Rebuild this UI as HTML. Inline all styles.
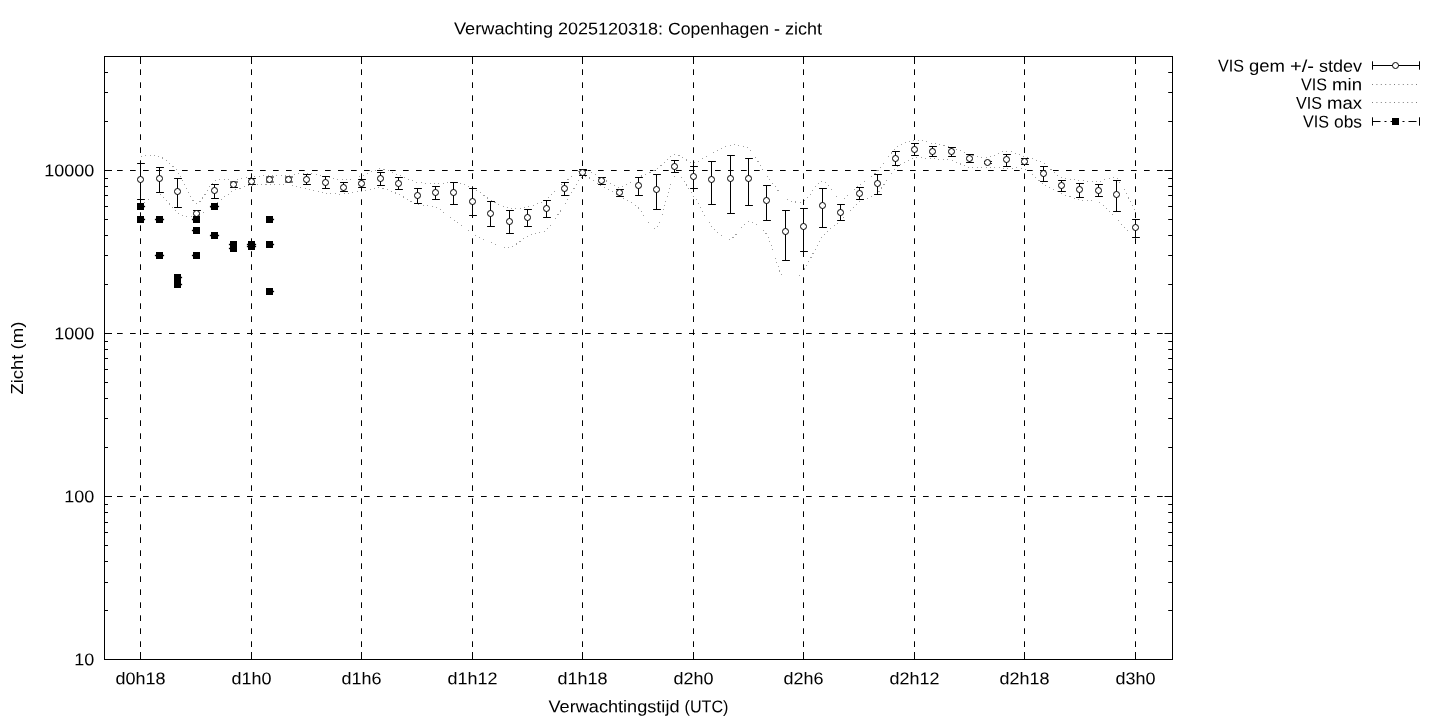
<!DOCTYPE html><html><head><meta charset="utf-8"><title>Verwachting</title><style>html,body{margin:0;padding:0;background:#fff}svg{display:block;will-change:transform}text{font-family:"Liberation Sans",sans-serif;font-size:17px;fill:#000}</style></head><body>
<svg width="1440" height="720" viewBox="0 0 1440 720">
<rect width="1440" height="720" fill="#fff"/>
<g stroke="#000" stroke-width="1" fill="none" stroke-dasharray="5.7 7.3">
<path d="M104 496.5H1173"/>
<path d="M104 333.5H1173"/>
<path d="M104 170.5H1173"/>
<path d="M140.5 660V56"/>
<path d="M251.5 660V56"/>
<path d="M361.5 660V56"/>
<path d="M472.5 660V56"/>
<path d="M582.5 660V56"/>
<path d="M693.5 660V56"/>
<path d="M803.5 660V56"/>
<path d="M914.5 660V56"/>
<path d="M1024.5 660V56"/>
<path d="M1135.5 660V56"/>
</g>
<g stroke="#000" stroke-width="1" fill="none">
<path d="M104.5 659.5h7.5M1172.5 659.5h-8M104.5 610.5h3.5M1172.5 610.5h-4.3M104.5 582.5h3.5M1172.5 582.5h-4.3M104.5 561.5h3.5M1172.5 561.5h-4.3M104.5 545.5h3.5M1172.5 545.5h-4.3M104.5 532.5h3.5M1172.5 532.5h-4.3M104.5 522.5h3.5M1172.5 522.5h-4.3M104.5 512.5h3.5M1172.5 512.5h-4.3M104.5 504.5h3.5M1172.5 504.5h-4.3M104.5 496.5h7.5M1172.5 496.5h-8M104.5 447.5h3.5M1172.5 447.5h-4.3M104.5 418.5h3.5M1172.5 418.5h-4.3M104.5 398.5h3.5M1172.5 398.5h-4.3M104.5 382.5h3.5M1172.5 382.5h-4.3M104.5 369.5h3.5M1172.5 369.5h-4.3M104.5 358.5h3.5M1172.5 358.5h-4.3M104.5 349.5h3.5M1172.5 349.5h-4.3M104.5 341.5h3.5M1172.5 341.5h-4.3M104.5 333.5h7.5M1172.5 333.5h-8M104.5 284.5h3.5M1172.5 284.5h-4.3M104.5 255.5h3.5M1172.5 255.5h-4.3M104.5 235.5h3.5M1172.5 235.5h-4.3M104.5 219.5h3.5M1172.5 219.5h-4.3M104.5 206.5h3.5M1172.5 206.5h-4.3M104.5 195.5h3.5M1172.5 195.5h-4.3M104.5 186.5h3.5M1172.5 186.5h-4.3M104.5 178.5h3.5M1172.5 178.5h-4.3M104.5 170.5h7.5M1172.5 170.5h-8M104.5 121.5h3.5M1172.5 121.5h-4.3M104.5 92.5h3.5M1172.5 92.5h-4.3M104.5 72.5h3.5M1172.5 72.5h-4.3M104.5 56.5h3.5M1172.5 56.5h-4.3M140.5 659.5v-7.5M140.5 56.5v7.5M251.5 659.5v-7.5M251.5 56.5v7.5M361.5 659.5v-7.5M361.5 56.5v7.5M472.5 659.5v-7.5M472.5 56.5v7.5M582.5 659.5v-7.5M582.5 56.5v7.5M693.5 659.5v-7.5M693.5 56.5v7.5M803.5 659.5v-7.5M803.5 56.5v7.5M914.5 659.5v-7.5M914.5 56.5v7.5M1024.5 659.5v-7.5M1024.5 56.5v7.5M1135.5 659.5v-7.5M1135.5 56.5v7.5"/>
</g>
<g stroke="#a0a0a0" stroke-width="1" fill="none" stroke-dasharray="1 3.4" shape-rendering="crispEdges">
<path d="M140.9 205.0C143.4 203.6 154.4 193.3 159.4 194.4C164.3 195.5 172.9 210.1 177.8 213.0C182.7 215.9 191.3 217.4 196.2 216.3C201.1 215.2 209.7 207.8 214.6 204.4C219.5 201.0 228.1 193.7 233.0 191.1C237.9 188.5 246.5 186.0 251.4 185.2C256.3 184.4 264.9 185.0 269.8 185.0C274.7 185.0 283.3 184.5 288.2 185.0C293.1 185.5 301.7 187.8 306.6 188.9C311.6 190.0 320.2 192.6 325.1 193.3C330.0 194.0 338.6 194.2 343.5 193.9C348.4 193.6 357.0 191.9 361.9 191.1C366.8 190.3 375.4 187.4 380.3 187.8C385.2 188.2 393.8 192.2 398.7 194.4C403.6 196.6 412.2 202.7 417.1 204.4C422.0 206.1 430.6 205.1 435.5 207.2C440.4 209.3 449.0 216.5 453.9 220.0C458.9 223.5 467.4 230.3 472.4 233.3C477.3 236.3 485.9 240.3 490.8 242.2C495.7 244.1 504.3 248.6 509.2 247.8C514.1 247.0 522.7 238.4 527.6 236.0C532.5 233.6 541.1 234.1 546.0 230.0C550.9 225.9 559.5 212.1 564.4 205.0C569.3 197.9 577.9 179.3 582.8 176.8C587.7 174.3 596.3 183.5 601.2 186.0C606.1 188.5 614.7 192.9 619.7 195.8C624.6 198.7 633.2 203.3 638.1 207.6C643.0 211.9 651.6 232.5 656.5 228.2C661.4 223.9 670.0 179.8 674.9 175.4C679.8 171.0 688.4 188.6 693.3 195.4C698.2 202.2 706.8 220.5 711.7 226.3C716.6 232.1 725.2 239.8 730.1 239.2C735.0 238.6 743.6 222.5 748.5 221.9C753.4 221.3 762.0 226.8 766.9 235.0C771.9 243.2 780.5 278.6 785.4 283.2C790.3 287.8 798.9 276.0 803.8 269.8C808.7 263.6 817.3 243.6 822.2 237.0C827.1 230.4 835.7 225.1 840.6 220.5C845.5 215.9 854.1 205.9 859.0 202.3C863.9 198.7 872.5 197.8 877.4 193.2C882.3 188.6 890.9 172.7 895.8 168.0C900.7 163.3 909.3 159.5 914.2 158.3C919.2 157.1 927.7 158.6 932.7 158.9C937.6 159.2 946.2 159.3 951.1 160.4C956.0 161.5 964.6 166.4 969.5 167.3C974.4 168.2 983.0 167.3 987.9 167.4C992.8 167.5 1001.4 168.1 1006.3 168.3C1011.2 168.5 1019.8 166.9 1024.7 169.0C1029.6 171.1 1038.2 180.7 1043.1 184.0C1048.0 187.3 1056.6 191.5 1061.5 193.6C1066.4 195.7 1075.0 198.6 1080.0 199.7C1084.9 200.8 1093.5 199.2 1098.4 201.8C1103.3 204.4 1111.9 214.1 1116.8 219.0C1121.7 223.9 1132.7 236.1 1135.2 238.7"/>
<path d="M140.9 156.1C143.4 156.1 154.4 154.2 159.4 156.3C164.3 158.4 172.9 165.4 177.8 171.7C182.7 178.0 191.3 202.2 196.2 203.5C201.1 204.8 209.7 184.2 214.6 181.1C219.5 178.0 228.1 180.5 233.0 180.0C237.9 179.5 246.5 177.8 251.4 177.2C256.3 176.6 264.9 175.8 269.8 175.5C274.7 175.2 283.3 175.5 288.2 175.2C293.1 174.9 301.7 173.2 306.6 173.3C311.6 173.4 320.2 175.2 325.1 176.1C330.0 177.0 338.6 180.0 343.5 180.0C348.4 180.0 357.0 177.6 361.9 176.1C366.8 174.6 375.4 169.0 380.3 168.9C385.2 168.8 393.8 173.2 398.7 175.0C403.6 176.8 412.2 181.0 417.1 182.2C422.0 183.4 430.6 183.9 435.5 183.9C440.4 183.9 449.0 181.7 453.9 182.2C458.9 182.7 467.4 185.4 472.4 187.8C477.3 190.2 485.9 197.3 490.8 200.0C495.7 202.7 504.3 207.3 509.2 208.3C514.1 209.3 522.7 208.4 527.6 207.2C532.5 206.0 541.1 202.7 546.0 199.4C550.9 196.1 559.5 186.1 564.4 182.2C569.3 178.3 577.9 170.8 582.8 170.2C587.7 169.6 596.3 175.7 601.2 178.0C606.1 180.3 614.7 187.3 619.7 187.2C624.6 187.1 633.2 179.9 638.1 177.5C643.0 175.1 651.6 172.3 656.5 169.2C661.4 166.1 670.0 155.4 674.9 154.6C679.8 153.8 688.4 163.1 693.3 162.9C698.2 162.7 706.8 155.5 711.7 153.2C716.6 150.9 725.2 145.9 730.1 145.3C735.0 144.7 743.6 144.6 748.5 148.6C753.4 152.6 762.0 168.9 766.9 175.5C771.9 182.1 780.5 195.0 785.4 198.4C790.3 201.8 798.9 203.4 803.8 201.1C808.7 198.8 817.3 181.1 822.2 180.9C827.1 180.7 835.7 198.7 840.6 199.3C845.5 199.9 854.1 189.2 859.0 185.5C863.9 181.8 872.5 176.3 877.4 171.3C882.3 166.3 890.9 152.2 895.8 148.0C900.7 143.8 909.3 140.6 914.2 140.0C919.2 139.4 927.7 142.3 932.7 143.3C937.6 144.3 946.2 145.7 951.1 147.2C956.0 148.7 964.6 153.0 969.5 154.4C974.4 155.8 983.0 157.9 987.9 157.5C992.8 157.1 1001.4 151.2 1006.3 151.1C1011.2 151.0 1019.8 154.9 1024.7 156.5C1029.6 158.1 1038.2 160.4 1043.1 163.2C1048.0 166.0 1056.6 175.2 1061.5 177.5C1066.4 179.8 1075.0 179.6 1080.0 180.2C1084.9 180.8 1093.5 182.1 1098.4 181.9C1103.3 181.7 1111.9 174.6 1116.8 178.5C1121.7 182.4 1132.7 206.7 1135.2 211.0"/>
</g>
<g stroke="#7d7d7d" stroke-width="1" fill="none" stroke-dasharray="1 3.4">
<path d="M1372 84.5H1420"/><path d="M1372 102.5H1420"/>
</g>
<g stroke="#000" stroke-width="1" fill="none">
<path d="M140.5 163.5V199.5M137.1 163.5h7.8M137.1 199.5h7.8M159.5 167.5V192.5M156.1 167.5h7.8M156.1 192.5h7.8M177.5 178.5V207.5M174.1 178.5h7.8M174.1 207.5h7.8M196.5 210.5V216.5M193.1 210.5h7.8M193.1 216.5h6.8M214.5 184.5V198.5M211.1 184.5h7.8M211.1 198.5h7.8M233.5 182V187.5M230.1 182h7.8M230.1 187.5h7.8M251.5 178.5V184.5M248.1 178.5h7.8M248.1 184.5h7.8M269.5 177V182M266.1 177h7.8M266.1 182h7.8M288.5 177V182M285.1 177h7.8M285.1 182h7.8M306.5 174.5V184.5M303.1 174.5h7.8M303.1 184.5h7.8M325.5 176.5V188.5M322.1 176.5h7.8M322.1 188.5h7.8M343.5 182.5V191.5M340.1 182.5h7.8M340.1 191.5h7.8M361.5 179.5V187.5M358.1 179.5h7.8M358.1 187.5h7.8M380.5 172.5V185.5M377.1 172.5h7.8M377.1 185.5h7.8M398.5 177.5V189.5M395.1 177.5h7.8M395.1 189.5h7.8M417.5 188.5V203.5M414.1 188.5h7.8M414.1 203.5h7.8M435.5 186.5V199.5M432.1 186.5h7.8M432.1 199.5h7.8M453.5 182.5V204.5M450.1 182.5h7.8M450.1 204.5h7.8M472.5 188.5V215.5M469.1 188.5h7.8M469.1 215.5h7.8M490.5 201.5V226.5M487.1 201.5h7.8M487.1 226.5h7.8M509.5 210.5V233.5M506.1 210.5h7.8M506.1 233.5h7.8M527.5 209.5V226.5M524.1 209.5h7.8M524.1 226.5h7.8M546.5 200.5V217.5M543.1 200.5h7.8M543.1 217.5h7.8M564.5 182.5V195.5M561.1 182.5h7.8M561.1 195.5h7.8M582.5 169.5V175.5M579.1 169.5h7.8M579.1 175.5h7.8M601.5 177.5V184.5M598.1 177.5h7.8M598.1 184.5h7.8M619.5 189.5V196.5M616.1 189.5h7.8M616.1 196.5h7.8M638.5 177.5V195.5M635.1 177.5h7.8M635.1 195.5h7.8M656.5 174.5V209.5M653.1 174.5h7.8M653.1 209.5h7.8M674.5 160.5V172.5M671.1 160.5h7.8M671.1 172.5h7.8M693.5 166.5V188.5M690.1 166.5h7.8M690.1 188.5h7.8M711.5 161.5V204.5M708.1 161.5h7.8M708.1 204.5h7.8M730.5 155.5V213.5M727.1 155.5h7.8M727.1 213.5h7.8M748.5 158.5V205.5M745.1 158.5h7.8M745.1 205.5h7.8M766.5 185.5V220.5M763.1 185.5h7.8M763.1 220.5h7.8M785.5 210.5V260.5M782.1 210.5h7.8M782.1 260.5h7.8M803.5 208.5V251.5M800.1 208.5h7.8M800.1 251.5h7.8M822.5 188.5V227.5M819.1 188.5h7.8M819.1 227.5h7.8M840.5 204.5V220.5M837.1 204.5h7.8M837.1 220.5h7.8M859.5 187.5V199.5M856.1 187.5h7.8M856.1 199.5h7.8M877.5 174.5V194.5M874.1 174.5h7.8M874.1 194.5h7.8M895.5 151.5V165.5M892.1 151.5h7.8M892.1 165.5h7.8M914.5 143.5V155.5M911.1 143.5h7.8M911.1 155.5h7.8M932.5 146.5V156.5M929.1 146.5h7.8M929.1 156.5h7.8M951.5 147.5V156.5M948.1 147.5h7.8M948.1 156.5h7.8M969.5 154.5V162.5M966.1 154.5h7.8M966.1 162.5h7.8M987.5 161.5V163.5M984.1 161.5h7.8M984.1 163.5h7.8M1006.5 154.5V166.5M1003.1 154.5h7.8M1003.1 166.5h7.8M1024.5 158.5V164.5M1021.1 158.5h7.8M1021.1 164.5h7.8M1043.5 166.5V181.5M1040.1 166.5h7.8M1040.1 181.5h7.8M1061.5 180.5V191.5M1058.1 180.5h7.8M1058.1 191.5h7.8M1079.5 183.5V197.5M1076.1 183.5h7.8M1076.1 197.5h7.8M1098.5 184.5V196.5M1095.1 184.5h7.8M1095.1 196.5h7.8M1116.5 180.5V211.5M1113.1 180.5h7.8M1113.1 211.5h7.8M1135.5 219.5V237.5M1132.1 219.5h7.8M1132.1 237.5h7.8"/>
</g>
<g stroke="#000" stroke-width="1" fill="#fff">
<circle cx="140.5" cy="179.5" r="3"/>
<circle cx="159.5" cy="178.5" r="3"/>
<circle cx="177.5" cy="191.5" r="3"/>
<circle cx="196.5" cy="213.5" r="3"/>
<circle cx="214.5" cy="190.5" r="3"/>
<circle cx="233.5" cy="184.5" r="3"/>
<circle cx="251.5" cy="181.5" r="3"/>
<circle cx="269.5" cy="179.5" r="3"/>
<circle cx="288.5" cy="179.5" r="3"/>
<circle cx="306.5" cy="179.5" r="3"/>
<circle cx="325.5" cy="182.5" r="3"/>
<circle cx="343.5" cy="187.5" r="3"/>
<circle cx="361.5" cy="183.5" r="3"/>
<circle cx="380.5" cy="178.5" r="3"/>
<circle cx="398.5" cy="183.5" r="3"/>
<circle cx="417.5" cy="195.5" r="3"/>
<circle cx="435.5" cy="192.5" r="3"/>
<circle cx="453.5" cy="192.5" r="3"/>
<circle cx="472.5" cy="201.5" r="3"/>
<circle cx="490.5" cy="213.5" r="3"/>
<circle cx="509.5" cy="221.5" r="3"/>
<circle cx="527.5" cy="217.5" r="3"/>
<circle cx="546.5" cy="208.5" r="3"/>
<circle cx="564.5" cy="188.5" r="3"/>
<circle cx="582.5" cy="172.5" r="3"/>
<circle cx="601.5" cy="180.5" r="3"/>
<circle cx="619.5" cy="192.5" r="3"/>
<circle cx="638.5" cy="185.5" r="3"/>
<circle cx="656.5" cy="189.5" r="3"/>
<circle cx="674.5" cy="166.5" r="3"/>
<circle cx="693.5" cy="176.5" r="3"/>
<circle cx="711.5" cy="179.5" r="3"/>
<circle cx="730.5" cy="178.5" r="3"/>
<circle cx="748.5" cy="178.5" r="3"/>
<circle cx="766.5" cy="200.5" r="3"/>
<circle cx="785.5" cy="231.5" r="3"/>
<circle cx="803.5" cy="226.5" r="3"/>
<circle cx="822.5" cy="205.5" r="3"/>
<circle cx="840.5" cy="212.5" r="3"/>
<circle cx="859.5" cy="193.5" r="3"/>
<circle cx="877.5" cy="183.5" r="3"/>
<circle cx="895.5" cy="158.5" r="3"/>
<circle cx="914.5" cy="149.5" r="3"/>
<circle cx="932.5" cy="151.5" r="3"/>
<circle cx="951.5" cy="151.5" r="3"/>
<circle cx="969.5" cy="158.5" r="3"/>
<circle cx="987.5" cy="162.5" r="3"/>
<circle cx="1006.5" cy="159.5" r="3"/>
<circle cx="1024.5" cy="161.5" r="3"/>
<circle cx="1043.5" cy="173.5" r="3"/>
<circle cx="1061.5" cy="185.5" r="3"/>
<circle cx="1079.5" cy="189.5" r="3"/>
<circle cx="1098.5" cy="190.5" r="3"/>
<circle cx="1116.5" cy="194.5" r="3"/>
<circle cx="1135.5" cy="227.5" r="3"/>
</g>
<g fill="#000" stroke="none">
<rect x="137.0" y="203.0" width="7" height="7"/><rect x="140.5" y="205.8" width="4.6" height="1.4"/>
<rect x="137.0" y="216.0" width="7" height="7"/><rect x="140.5" y="218.8" width="4.6" height="1.4"/>
<rect x="156.0" y="216.0" width="7" height="7"/><rect x="154.9" y="218.8" width="9.2" height="1.4"/>
<rect x="156.0" y="252.0" width="7" height="7"/><rect x="154.9" y="254.8" width="9.2" height="1.4"/>
<rect x="174.0" y="274.0" width="7" height="7"/><rect x="177.5" y="276.8" width="4.6" height="1.4"/>
<rect x="174.0" y="281.0" width="7" height="7"/><rect x="177.5" y="283.8" width="4.6" height="1.4"/>
<rect x="193.0" y="216.0" width="7" height="7"/><rect x="191.9" y="218.8" width="4.6" height="1.4"/>
<rect x="193.0" y="227.0" width="7" height="7"/><rect x="191.9" y="229.8" width="4.6" height="1.4"/>
<rect x="193.0" y="252.0" width="7" height="7"/><rect x="191.9" y="254.8" width="4.6" height="1.4"/>
<rect x="211.0" y="203.0" width="7" height="7"/><rect x="209.9" y="205.8" width="9.2" height="1.4"/>
<rect x="211.0" y="232.0" width="7" height="7"/><rect x="209.9" y="234.8" width="9.2" height="1.4"/>
<rect x="230.0" y="241.0" width="7" height="7"/><rect x="228.9" y="243.8" width="4.6" height="1.4"/>
<rect x="230.0" y="245.0" width="7" height="7"/><rect x="228.9" y="247.8" width="4.6" height="1.4"/>
<rect x="248.0" y="241.0" width="7" height="7"/><rect x="246.9" y="243.8" width="9.2" height="1.4"/>
<rect x="248.0" y="243.0" width="7" height="7"/><rect x="246.9" y="245.8" width="9.2" height="1.4"/>
<rect x="266.0" y="216.0" width="7" height="7"/><rect x="269.5" y="218.8" width="4.6" height="1.4"/>
<rect x="266.0" y="241.0" width="7" height="7"/><rect x="269.5" y="243.8" width="4.6" height="1.4"/>
<rect x="266.0" y="288.0" width="7" height="7"/><rect x="269.5" y="290.8" width="4.6" height="1.4"/>
</g>
<rect x="104.5" y="56.5" width="1068.0" height="603.0" fill="none" stroke="#000" stroke-width="1"/>
<g stroke="#000" stroke-width="1" fill="none">
<path d="M1372.5 65.5H1419.5M1372.5 61.3v8.4M1419.5 61.3v8.4"/>
<circle cx="1395.5" cy="65.5" r="3" fill="#fff"/>
<path d="M1372.5 121.5H1419.5" stroke-dasharray="8 4 2 4"/><path d="M1372.5 117.3v8.4M1419.5 117.3v8.4"/>
</g>
<rect x="1392" y="118" width="7" height="7" fill="#000"/>
<g>
<g transform="rotate(0.06 638.0 34.5)"><text x="454.00" y="34.45" textLength="99.00" lengthAdjust="spacingAndGlyphs">Verwachting</text><text x="558.00" y="34.45" textLength="105.00" lengthAdjust="spacingAndGlyphs">2025120318:</text><text x="668.00" y="34.45" textLength="101.00" lengthAdjust="spacingAndGlyphs">Copenhagen</text><text x="774.00" y="34.45" textLength="6.00" lengthAdjust="spacingAndGlyphs">-</text><text x="785.00" y="34.45" textLength="37.00" lengthAdjust="spacingAndGlyphs">zicht</text></g>
<g transform="rotate(0.06 638.5 712.3)"><text x="548.50" y="712.30" textLength="131.00" lengthAdjust="spacingAndGlyphs">Verwachtingstijd</text><text x="684.50" y="712.30" textLength="44.00" lengthAdjust="spacingAndGlyphs">(UTC)</text></g>
<g transform="rotate(-90 23 358)"><text x="-13.50" y="358.00" textLength="40.00" lengthAdjust="spacingAndGlyphs">Zicht</text><text x="31.50" y="358.00" textLength="28.00" lengthAdjust="spacingAndGlyphs">(m)</text></g>
<g transform="rotate(0.06 84.3 665.3)"><text x="74.30" y="665.33" textLength="20.00" lengthAdjust="spacingAndGlyphs">10</text></g>
<g transform="rotate(0.06 79.3 502.3)"><text x="64.30" y="502.33" textLength="30.00" lengthAdjust="spacingAndGlyphs">100</text></g>
<g transform="rotate(0.06 74.3 339.3)"><text x="54.30" y="339.33" textLength="40.00" lengthAdjust="spacingAndGlyphs">1000</text></g>
<g transform="rotate(0.06 69.3 176.3)"><text x="44.30" y="176.33" textLength="50.00" lengthAdjust="spacingAndGlyphs">10000</text></g>
<g transform="rotate(0.06 140.5 684.4)"><text x="115.50" y="684.35" textLength="50.00" lengthAdjust="spacingAndGlyphs">d0h18</text></g>
<g transform="rotate(0.06 251.5 684.4)"><text x="231.50" y="684.35" textLength="40.00" lengthAdjust="spacingAndGlyphs">d1h0</text></g>
<g transform="rotate(0.06 361.5 684.4)"><text x="341.50" y="684.35" textLength="40.00" lengthAdjust="spacingAndGlyphs">d1h6</text></g>
<g transform="rotate(0.06 472.5 684.4)"><text x="447.50" y="684.35" textLength="50.00" lengthAdjust="spacingAndGlyphs">d1h12</text></g>
<g transform="rotate(0.06 582.5 684.4)"><text x="557.50" y="684.35" textLength="50.00" lengthAdjust="spacingAndGlyphs">d1h18</text></g>
<g transform="rotate(0.06 693.5 684.4)"><text x="673.50" y="684.35" textLength="40.00" lengthAdjust="spacingAndGlyphs">d2h0</text></g>
<g transform="rotate(0.06 803.5 684.4)"><text x="783.50" y="684.35" textLength="40.00" lengthAdjust="spacingAndGlyphs">d2h6</text></g>
<g transform="rotate(0.06 914.5 684.4)"><text x="889.50" y="684.35" textLength="50.00" lengthAdjust="spacingAndGlyphs">d2h12</text></g>
<g transform="rotate(0.06 1024.5 684.4)"><text x="999.50" y="684.35" textLength="50.00" lengthAdjust="spacingAndGlyphs">d2h18</text></g>
<g transform="rotate(0.06 1135.5 684.4)"><text x="1115.50" y="684.35" textLength="40.00" lengthAdjust="spacingAndGlyphs">d3h0</text></g>
<g transform="rotate(0.06 1290.0 71.7)"><text x="1218.00" y="71.67" textLength="26.00" lengthAdjust="spacingAndGlyphs">VIS</text><text x="1249.00" y="71.67" textLength="36.00" lengthAdjust="spacingAndGlyphs">gem</text><text x="1290.00" y="71.67" textLength="24.00" lengthAdjust="spacingAndGlyphs">+/-</text><text x="1319.00" y="71.67" textLength="43.00" lengthAdjust="spacingAndGlyphs">stdev</text></g>
<g transform="rotate(0.06 1331.5 90.2)"><text x="1301.00" y="90.20" textLength="26.00" lengthAdjust="spacingAndGlyphs">VIS</text><text x="1332.00" y="90.20" textLength="30.00" lengthAdjust="spacingAndGlyphs">min</text></g>
<g transform="rotate(0.06 1329.0 108.7)"><text x="1296.00" y="108.70" textLength="26.00" lengthAdjust="spacingAndGlyphs">VIS</text><text x="1327.00" y="108.70" textLength="35.00" lengthAdjust="spacingAndGlyphs">max</text></g>
<g transform="rotate(0.06 1332.5 127.4)"><text x="1303.00" y="127.40" textLength="26.00" lengthAdjust="spacingAndGlyphs">VIS</text><text x="1334.00" y="127.40" textLength="28.00" lengthAdjust="spacingAndGlyphs">obs</text></g>
</g>
</svg></body></html>
